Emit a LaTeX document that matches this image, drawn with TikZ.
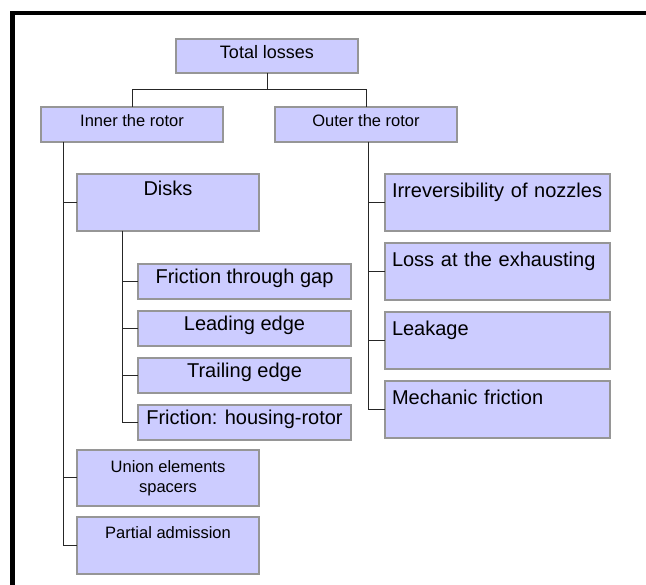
\documentclass[tikz,border=0pt]{standalone}
\usepackage{fontspec}
\setmainfont{Liberation Sans}
\usepackage{xcolor}
\usetikzlibrary{positioning}

\definecolor{boxfill}{RGB}{204,204,255}
\definecolor{boxline}{RGB}{150,150,150}

\begin{document}
\begin{tikzpicture}[
  x=1pt, y=-1pt,
  small/.style={font=\fontsize{16.5}{20}\selectfont},
  large/.style={font=\fontsize{20}{23}\selectfont},
  box/.style={rectangle, draw=boxline, fill=boxfill, line width=1.2pt,
              outer sep=0pt, inner sep=0pt, align=center},
  head/.style={box, small, minimum width=182pt, minimum height=35pt,
               text height=0.75em, text depth=0.3em},
  leaf/.style={box, large, minimum width=213pt, minimum height=35pt,
               text height=0.75em, text depth=0.25em},
  tall/.style={box, minimum width=182pt, minimum height=57pt},
  topbox/.style={tall, text height=22pt, text depth=35pt},
  side/.style={box, large, text width=211pt, inner xsep=7pt, align=left,
               minimum height=57pt, text height=24pt, text depth=33pt},
  link/.style={line width=1pt, black!85},
  node distance=12pt
]
\useasboundingbox (0,0) rectangle (646,585);

% --- Frame ---
\draw[line width=4.5pt] (646,13) -- (12.5,13) -- (12.5,585);

% --- Top levels ---
\node[head, minimum height=34pt, font=\fontsize{18}{21}\selectfont]
  (total) at (267,56) {Total losses};
\node[head] (inner) at (132,124.5) {Inner the rotor};
\node[head] (outer) at (366,124.5) {Outer the rotor};

% --- Inner the rotor ---
\node[topbox, large, anchor=north west] (disks) at (77,174) {Disks};
\node[leaf, anchor=north west] (fgap) at (138,264) {Friction through gap};
\node[leaf, below=of fgap]  (lead)   {Leading edge};
\node[leaf, below=of lead]  (trail)  {Trailing edge};
\node[leaf, below=of trail] (fhouse) {Friction: housing-rotor};
\node[tall, small, minimum height=56pt, anchor=north west] (union) at (77,450)
  {Union elements\\spacers};
\node[topbox, small, text height=21pt, text depth=36pt, below=11pt of union]
  (partial) {Partial admission};

% --- Outer the rotor ---
\node[side, anchor=north west] (nozzle) at (385,174) {Irreversibility of nozzles};
\node[side, below=of nozzle]  (exhaust) {Loss at the exhausting};
\node[side, below=of exhaust] (leak)    {Leakage};
\node[side, below=of leak]    (mech)    {Mechanic friction};

% --- Connectors ---
\draw[link] (total.south) -- ++(0,17) -| (inner.north);
\draw[link] (total.south) -- ++(0,17) -| (outer.north);
\foreach \n in {disks, union, partial}
  \draw[link] ([xshift=22pt]inner.south west) |- (\n.west);
\foreach \n in {fgap, lead, trail, fhouse}
  \draw[link] ([xshift=45pt]disks.south west) |- (\n.west);
\foreach \n in {nozzle, exhaust, leak, mech}
  \draw[link] ([xshift=2pt]outer.south) |- (\n.west);

\end{tikzpicture}
\end{document}
